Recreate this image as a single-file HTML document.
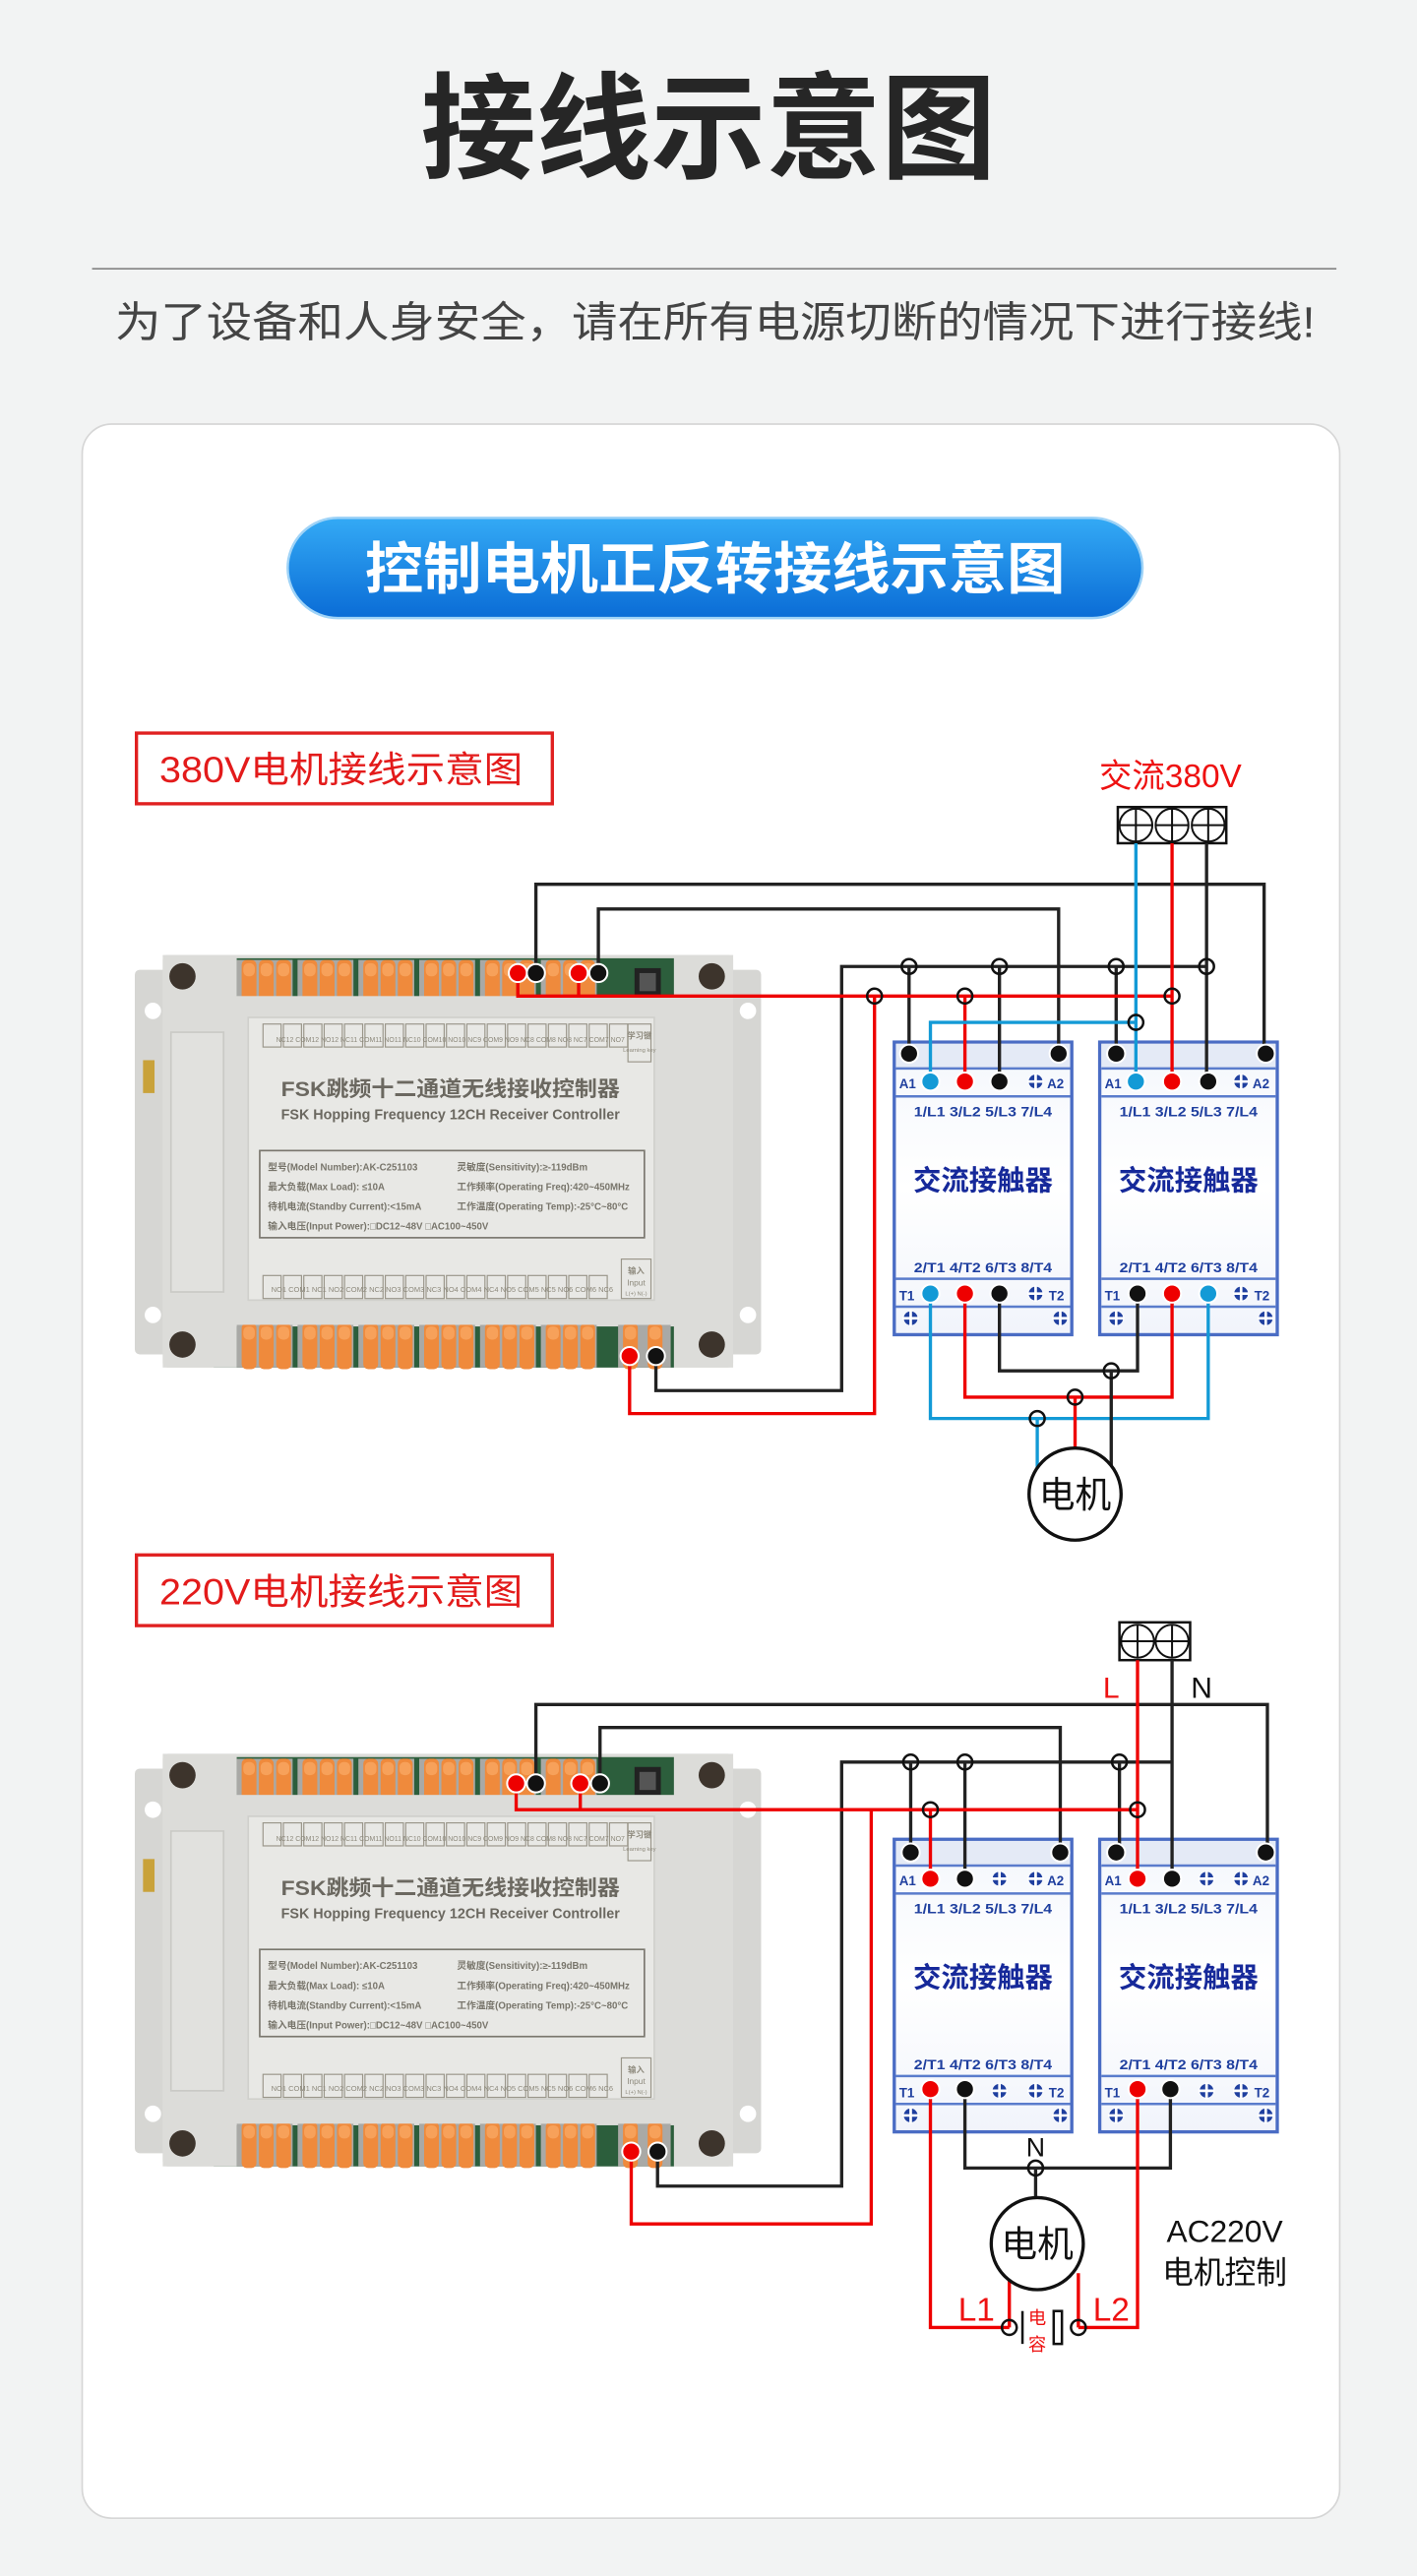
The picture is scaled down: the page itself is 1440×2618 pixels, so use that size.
<!DOCTYPE html>
<html><head><meta charset="utf-8"><style>
html,body{margin:0;padding:0;background:#f2f3f3;}
svg{display:block;}
text{font-family:"Liberation Sans","Noto Sans CJK SC",sans-serif;}
</style></head><body>
<svg width="1440" height="2618" viewBox="0 0 862 1567.2" xmlns="http://www.w3.org/2000/svg">
<defs>
<linearGradient id="pill" x1="0" y1="0" x2="0" y2="1"><stop offset="0" stop-color="#34aaf5"/><stop offset="1" stop-color="#0a6cd6"/></linearGradient>
<linearGradient id="cg" x1="0" y1="0" x2="0" y2="1"><stop offset="0" stop-color="#f4f7fc"/><stop offset="0.5" stop-color="#ffffff"/><stop offset="1" stop-color="#f1f4fb"/></linearGradient>
<symbol id="sc" overflow="visible"><circle r="4.2" fill="#1f3f9f"/><path d="M-5 0H5M0 -5V5" stroke="#fff" stroke-width="1.6"/></symbol>
<symbol id="ct" overflow="visible">
<rect x="0" y="0" width="108" height="178" fill="url(#cg)" stroke="#4a6cc4" stroke-width="2"/>
<rect x="1" y="1" width="106" height="15" fill="#e4eaf6"/>
<path d="M1 16H107M1 33H107M1 144H107M1 161H107" stroke="#5a7ccc" stroke-width="1.5"/>
<use href="#sc" x="86" y="24"/><use href="#sc" x="86" y="153"/><use href="#sc" x="10" y="168"/><use href="#sc" x="101" y="168"/>
</symbol>
<symbol id="lev" overflow="visible"><rect x="0" y="0" width="9" height="28" rx="3" fill="#ef8a3c"/><rect x="1" y="2" width="7" height="8" rx="3" fill="#f7a15a"/></symbol>
<symbol id="ctrl" overflow="visible">
<rect x="82" y="590" width="381" height="234" rx="3" fill="#d6d6d3"/>
<rect x="99" y="581" width="347" height="251" rx="3" fill="#dcdcd9"/>
<rect x="130" y="583" width="280" height="25" fill="#2c5e3c"/>
<rect x="130" y="807" width="280" height="25" fill="#2c5e3c"/>
<g>
<rect x="144" y="584" width="34" height="25" fill="#a9a9a6"/><rect x="181" y="584" width="34" height="25" fill="#a9a9a6"/><rect x="218" y="584" width="34" height="25" fill="#a9a9a6"/><rect x="255" y="584" width="34" height="25" fill="#a9a9a6"/><rect x="292" y="584" width="34" height="25" fill="#a9a9a6"/><rect x="329" y="584" width="34" height="25" fill="#a9a9a6"/>
<use href="#lev" x="147" y="584"/><use href="#lev" x="157.5" y="584"/><use href="#lev" x="168" y="584"/>
<use href="#lev" x="184" y="584"/><use href="#lev" x="194.5" y="584"/><use href="#lev" x="205" y="584"/>
<use href="#lev" x="221" y="584"/><use href="#lev" x="231.5" y="584"/><use href="#lev" x="242" y="584"/>
<use href="#lev" x="258" y="584"/><use href="#lev" x="268.5" y="584"/><use href="#lev" x="279" y="584"/>
<use href="#lev" x="295" y="584"/><use href="#lev" x="305.5" y="584"/><use href="#lev" x="316" y="584"/>
<use href="#lev" x="332" y="584"/><use href="#lev" x="342.5" y="584"/><use href="#lev" x="353" y="584"/>
</g>
<rect x="386" y="589" width="16" height="17" fill="#222"/><rect x="389" y="592" width="10" height="11" fill="#555"/>
<g>
<rect x="144" y="806" width="34" height="26" fill="#a9a9a6"/><rect x="181" y="806" width="34" height="26" fill="#a9a9a6"/><rect x="218" y="806" width="34" height="26" fill="#a9a9a6"/><rect x="255" y="806" width="34" height="26" fill="#a9a9a6"/><rect x="292" y="806" width="34" height="26" fill="#a9a9a6"/><rect x="329" y="806" width="34" height="26" fill="#a9a9a6"/><rect x="376" y="806" width="32" height="26" fill="#a9a9a6"/>
<use href="#lev" x="147" y="805"/><use href="#lev" x="157.5" y="805"/><use href="#lev" x="168" y="805"/>
<use href="#lev" x="184" y="805"/><use href="#lev" x="194.5" y="805"/><use href="#lev" x="205" y="805"/>
<use href="#lev" x="221" y="805"/><use href="#lev" x="231.5" y="805"/><use href="#lev" x="242" y="805"/>
<use href="#lev" x="258" y="805"/><use href="#lev" x="268.5" y="805"/><use href="#lev" x="279" y="805"/>
<use href="#lev" x="295" y="805"/><use href="#lev" x="305.5" y="805"/><use href="#lev" x="316" y="805"/>
<use href="#lev" x="332" y="805"/><use href="#lev" x="342.5" y="805"/><use href="#lev" x="353" y="805"/>
<use href="#lev" x="379" y="805"/><use href="#lev" x="394" y="805"/>
</g>
<rect x="99" y="606" width="347" height="200" fill="#dcdcd9"/>
<rect x="99" y="581" width="45" height="30" fill="#dcdcd9"/><rect x="410" y="581" width="36" height="30" fill="#dcdcd9"/>
<rect x="99" y="803" width="45" height="29" fill="#dcdcd9"/><rect x="410" y="803" width="36" height="29" fill="#dcdcd9"/>
<circle cx="111" cy="594" r="8" fill="#3d342c"/><circle cx="111" cy="818" r="8" fill="#3d342c"/>
<circle cx="433" cy="594" r="8" fill="#3d342c"/><circle cx="433" cy="818" r="8" fill="#3d342c"/>
<circle cx="93" cy="615" r="5" fill="#fff"/><circle cx="93" cy="800" r="5" fill="#fff"/><circle cx="455" cy="615" r="5" fill="#fff"/><circle cx="455" cy="800" r="5" fill="#fff"/>
<rect x="87" y="645" width="7" height="20" fill="#c9a23a"/>
<rect x="104" y="628" width="32" height="158" fill="#e1e1de" stroke="#cacac6"/>
<rect x="151" y="619" width="247" height="172" fill="#e8e8e5" stroke="#d0d0cc"/>
<g fill="none" stroke="#9a968a" stroke-width="0.7">
<rect x="160" y="623" width="11" height="14"/><rect x="172.4" y="623" width="11" height="14"/><rect x="184.8" y="623" width="11" height="14"/><rect x="197.2" y="623" width="11" height="14"/><rect x="209.6" y="623" width="11" height="14"/><rect x="222" y="623" width="11" height="14"/><rect x="234.4" y="623" width="11" height="14"/><rect x="246.8" y="623" width="11" height="14"/><rect x="259.2" y="623" width="11" height="14"/><rect x="271.6" y="623" width="11" height="14"/><rect x="284" y="623" width="11" height="14"/><rect x="296.4" y="623" width="11" height="14"/><rect x="308.8" y="623" width="11" height="14"/><rect x="321.2" y="623" width="11" height="14"/><rect x="333.6" y="623" width="11" height="14"/><rect x="346" y="623" width="11" height="14"/><rect x="358.4" y="623" width="11" height="14"/><rect x="370.8" y="623" width="11" height="14"/>
<rect x="382" y="623" width="14" height="23"/>
<rect x="160" y="776" width="11" height="14"/><rect x="172.4" y="776" width="11" height="14"/><rect x="184.8" y="776" width="11" height="14"/><rect x="197.2" y="776" width="11" height="14"/><rect x="209.6" y="776" width="11" height="14"/><rect x="222" y="776" width="11" height="14"/><rect x="234.4" y="776" width="11" height="14"/><rect x="246.8" y="776" width="11" height="14"/><rect x="259.2" y="776" width="11" height="14"/><rect x="271.6" y="776" width="11" height="14"/><rect x="284" y="776" width="11" height="14"/><rect x="296.4" y="776" width="11" height="14"/><rect x="308.8" y="776" width="11" height="14"/><rect x="321.2" y="776" width="11" height="14"/><rect x="333.6" y="776" width="11" height="14"/><rect x="346" y="776" width="11" height="14"/><rect x="358.4" y="776" width="11" height="14"/>
<rect x="378" y="766" width="18" height="24"/>
<rect x="158" y="700" width="234" height="53" stroke="#7a776e" stroke-width="1"/>
</g>
</symbol>
</defs>

<!-- header -->
<text x="431" y="103" text-anchor="middle" font-size="70" font-weight="bold" fill="#262626">接线示意图</text>
<line x1="56" y1="163.5" x2="813" y2="163.5" stroke="#8a8a8a" stroke-width="1"/>
<text x="435" y="205" text-anchor="middle" font-size="26" fill="#444" textLength="730" lengthAdjust="spacingAndGlyphs">为了设备和人身安全，请在所有电源切断的情况下进行接线!</text>

<rect x="50" y="258" width="765" height="1274" rx="18" fill="#fff" stroke="#d6d6d6"/>
<rect x="175" y="315" width="520" height="61" rx="30.5" fill="url(#pill)" stroke="#9fd3f7" stroke-width="1.5"/>
<text x="435" y="358" text-anchor="middle" font-size="34" font-weight="bold" fill="#fff" textLength="426" lengthAdjust="spacingAndGlyphs">控制电机正反转接线示意图</text>

<!-- ===== DIAGRAM 1 ===== -->
<rect x="83" y="446" width="253" height="43" fill="#fff" stroke="#e02020" stroke-width="2"/>
<text x="97" y="476" font-size="22" fill="#e31b1b" textLength="221" lengthAdjust="spacingAndGlyphs">380V电机接线示意图</text>

<use href="#ctrl" x="0" y="0"/>
<g font-size="4.2" fill="#8d897c" text-anchor="middle">
<text x="274" y="634" font-size="4.5" textLength="212" lengthAdjust="spacingAndGlyphs">NC12 COM12 NO12 NC11 COM11 NO11 NC10 COM10 NO10 NC9 COM9 NO9 NC8 COM8 NO8 NC7 COM7 NO7</text>
<text x="389" y="632" font-size="5" font-weight="bold">学习键</text><text x="389" y="640" font-size="3.5">Learning key</text>
<text x="269" y="786" font-size="4.5" textLength="208" lengthAdjust="spacingAndGlyphs">NO1 COM1 NC1 NO2 COM2 NC2 NO3 COM3 NC3 NO4 COM4 NC4 NO5 COM5 NC5 NO6 COM6 NC6</text>
<text x="387" y="775" font-size="5" font-weight="bold">输入</text><text x="387" y="782" font-size="5">Input</text><text x="387" y="788" font-size="3.5">L(+) N(-)</text>
</g>
<text x="274" y="667" text-anchor="middle" font-size="13" font-weight="bold" fill="#6b6860" textLength="206" lengthAdjust="spacingAndGlyphs">FSK跳频十二通道无线接收控制器</text>
<text x="274" y="681" text-anchor="middle" font-size="9" font-weight="bold" fill="#6b6860" textLength="206" lengthAdjust="spacingAndGlyphs">FSK Hopping Frequency 12CH Receiver Controller</text>
<g font-size="5.8" font-weight="bold" fill="#78756b">
<text x="163" y="712">型号(Model Number):AK-C251103</text><text x="278" y="712">灵敏度(Sensitivity):≥-119dBm</text>
<text x="163" y="724">最大负载(Max Load): ≤10A</text><text x="278" y="724">工作频率(Operating Freq):420~450MHz</text>
<text x="163" y="736">待机电流(Standby Current):&lt;15mA</text><text x="278" y="736">工作温度(Operating Temp):-25°C~80°C</text>
<text x="163" y="748">输入电压(Input Power):□DC12~48V □AC100~450V</text>
</g>

<use href="#ct" x="544" y="634"/><use href="#ct" x="669" y="634"/>
<g font-weight="bold" fill="#1f3f9f">
<text x="547" y="662" font-size="8">A1</text><text x="637" y="662" font-size="8">A2</text>
<text x="556" y="679" font-size="8" textLength="84" lengthAdjust="spacingAndGlyphs">1/L1 3/L2 5/L3 7/L4</text>
<text x="598" y="724" text-anchor="middle" font-size="17" fill="#16299a">交流接触器</text>
<text x="556" y="774" font-size="8" textLength="84" lengthAdjust="spacingAndGlyphs">2/T1 4/T2 6/T3 8/T4</text>
<text x="547" y="791" font-size="8">T1</text><text x="638" y="791" font-size="8">T2</text>
<text x="672" y="662" font-size="8">A1</text><text x="762" y="662" font-size="8">A2</text>
<text x="681" y="679" font-size="8" textLength="84" lengthAdjust="spacingAndGlyphs">1/L1 3/L2 5/L3 7/L4</text>
<text x="723" y="724" text-anchor="middle" font-size="17" fill="#16299a">交流接触器</text>
<text x="681" y="774" font-size="8" textLength="84" lengthAdjust="spacingAndGlyphs">2/T1 4/T2 6/T3 8/T4</text>
<text x="672" y="791" font-size="8">T1</text><text x="763" y="791" font-size="8">T2</text>
</g>

<text x="712" y="479" text-anchor="middle" font-size="20" fill="#ee1111">交流380V</text>
<rect x="680" y="491" width="66" height="22" fill="#fff" stroke="#111" stroke-width="1.5"/>
<g fill="none" stroke="#111" stroke-width="1.2">
<circle cx="691" cy="502" r="10"/><path d="M681 502H701M691 492V512"/>
<circle cx="713" cy="502" r="10"/><path d="M703 502H723M713 492V512"/>
<circle cx="735" cy="502" r="10"/><path d="M725 502H745M735 492V512"/>
</g>

<g fill="none" stroke-width="2">
<path d="M326 592V538H769V641M364 592V553H644V641M399 825V846H512V588H734M734 513V658M553 588V641M608 588V658M679 588V641" stroke="#222"/>
<path d="M315 592V606H713M352 592V606M713 513V658M587 606V658M532 606V860H383V825" stroke="#ee0000"/>
<path d="M566 658V622H691M691 513V658" stroke="#139ad6"/>
<path d="M566 787V863H735V787M631 863V893" stroke="#139ad6"/>
<path d="M587 787V850H713V787M654 850V881" stroke="#ee0000"/>
<path d="M608 787V834H692V787M676 834V892" stroke="#222"/>
</g>
<g fill="none" stroke="#111" stroke-width="1.5">
<circle cx="553" cy="588" r="4.5"/><circle cx="608" cy="588" r="4.5"/><circle cx="679" cy="588" r="4.5"/><circle cx="734" cy="588" r="4.5"/>
<circle cx="532" cy="606" r="4.5"/><circle cx="587" cy="606" r="4.5"/><circle cx="713" cy="606" r="4.5"/><circle cx="691" cy="622" r="4.5"/>
<circle cx="631" cy="863" r="4.5"/><circle cx="654" cy="850" r="4.5"/><circle cx="676" cy="834" r="4.5"/>
</g>
<circle cx="654" cy="909" r="28" fill="#fff" stroke="#111" stroke-width="2"/>
<text x="654" y="917" text-anchor="middle" font-size="22" fill="#111">电机</text>
<g stroke="#fff" stroke-width="1.2">
<circle cx="315" cy="592" r="5.5" fill="#ee0000"/><circle cx="326" cy="592" r="5.5" fill="#111"/><circle cx="352" cy="592" r="5.5" fill="#ee0000"/><circle cx="364" cy="592" r="5.5" fill="#111"/>
<circle cx="383" cy="825" r="5.5" fill="#ee0000"/><circle cx="399" cy="825" r="5.5" fill="#111"/>
<circle cx="553" cy="641" r="5.5" fill="#111"/><circle cx="644" cy="641" r="5.5" fill="#111"/><circle cx="679" cy="641" r="5.5" fill="#111"/><circle cx="770" cy="641" r="5.5" fill="#111"/>
<circle cx="566" cy="658" r="5.5" fill="#139ad6"/><circle cx="587" cy="658" r="5.5" fill="#ee0000"/><circle cx="608" cy="658" r="5.5" fill="#111"/>
<circle cx="691" cy="658" r="5.5" fill="#139ad6"/><circle cx="713" cy="658" r="5.5" fill="#ee0000"/><circle cx="735" cy="658" r="5.5" fill="#111"/>
<circle cx="566" cy="787" r="5.5" fill="#139ad6"/><circle cx="587" cy="787" r="5.5" fill="#ee0000"/><circle cx="608" cy="787" r="5.5" fill="#111"/>
<circle cx="692" cy="787" r="5.5" fill="#111"/><circle cx="713" cy="787" r="5.5" fill="#ee0000"/><circle cx="735" cy="787" r="5.5" fill="#139ad6"/>
</g>

<!-- ===== DIAGRAM 2 ===== -->
<rect x="83" y="946" width="253" height="43" fill="#fff" stroke="#e02020" stroke-width="2"/>
<text x="97" y="976" font-size="22" fill="#e31b1b" textLength="221" lengthAdjust="spacingAndGlyphs">220V电机接线示意图</text>

<use href="#ctrl" x="0" y="486"/>
<g font-size="4.2" fill="#8d897c" text-anchor="middle">
<text x="274" y="1120" font-size="4.5" textLength="212" lengthAdjust="spacingAndGlyphs">NC12 COM12 NO12 NC11 COM11 NO11 NC10 COM10 NO10 NC9 COM9 NO9 NC8 COM8 NO8 NC7 COM7 NO7</text>
<text x="389" y="1118" font-size="5" font-weight="bold">学习键</text><text x="389" y="1126" font-size="3.5">Learning key</text>
<text x="269" y="1272" font-size="4.5" textLength="208" lengthAdjust="spacingAndGlyphs">NO1 COM1 NC1 NO2 COM2 NC2 NO3 COM3 NC3 NO4 COM4 NC4 NO5 COM5 NC5 NO6 COM6 NC6</text>
<text x="387" y="1261" font-size="5" font-weight="bold">输入</text><text x="387" y="1268" font-size="5">Input</text><text x="387" y="1274" font-size="3.5">L(+) N(-)</text>
</g>
<text x="274" y="1153" text-anchor="middle" font-size="13" font-weight="bold" fill="#6b6860" textLength="206" lengthAdjust="spacingAndGlyphs">FSK跳频十二通道无线接收控制器</text>
<text x="274" y="1167" text-anchor="middle" font-size="9" font-weight="bold" fill="#6b6860" textLength="206" lengthAdjust="spacingAndGlyphs">FSK Hopping Frequency 12CH Receiver Controller</text>
<g font-size="5.8" font-weight="bold" fill="#78756b">
<text x="163" y="1198">型号(Model Number):AK-C251103</text><text x="278" y="1198">灵敏度(Sensitivity):≥-119dBm</text>
<text x="163" y="1210">最大负载(Max Load): ≤10A</text><text x="278" y="1210">工作频率(Operating Freq):420~450MHz</text>
<text x="163" y="1222">待机电流(Standby Current):&lt;15mA</text><text x="278" y="1222">工作温度(Operating Temp):-25°C~80°C</text>
<text x="163" y="1234">输入电压(Input Power):□DC12~48V □AC100~450V</text>
</g>

<use href="#ct" x="544" y="1119"/><use href="#ct" x="669" y="1119"/>
<use href="#sc" x="608" y="1143"/><use href="#sc" x="608" y="1272"/><use href="#sc" x="734" y="1143"/><use href="#sc" x="734" y="1272"/>
<g font-weight="bold" fill="#1f3f9f">
<text x="547" y="1147" font-size="8">A1</text><text x="637" y="1147" font-size="8">A2</text>
<text x="556" y="1164" font-size="8" textLength="84" lengthAdjust="spacingAndGlyphs">1/L1 3/L2 5/L3 7/L4</text>
<text x="598" y="1209" text-anchor="middle" font-size="17" fill="#16299a">交流接触器</text>
<text x="556" y="1259" font-size="8" textLength="84" lengthAdjust="spacingAndGlyphs">2/T1 4/T2 6/T3 8/T4</text>
<text x="547" y="1276" font-size="8">T1</text><text x="638" y="1276" font-size="8">T2</text>
<text x="672" y="1147" font-size="8">A1</text><text x="762" y="1147" font-size="8">A2</text>
<text x="681" y="1164" font-size="8" textLength="84" lengthAdjust="spacingAndGlyphs">1/L1 3/L2 5/L3 7/L4</text>
<text x="723" y="1209" text-anchor="middle" font-size="17" fill="#16299a">交流接触器</text>
<text x="681" y="1259" font-size="8" textLength="84" lengthAdjust="spacingAndGlyphs">2/T1 4/T2 6/T3 8/T4</text>
<text x="672" y="1276" font-size="8">T1</text><text x="763" y="1276" font-size="8">T2</text>
</g>

<rect x="681" y="987" width="43" height="23" fill="#fff" stroke="#111" stroke-width="1.5"/>
<g fill="none" stroke="#111" stroke-width="1.2">
<circle cx="692" cy="998.5" r="10"/><path d="M682 998.5H702M692 989V1008"/>
<circle cx="713" cy="998.5" r="10"/><path d="M703 998.5H723M713 989V1008"/>
</g>
<text x="676" y="1033" text-anchor="middle" font-size="18" fill="#ee1111">L</text>
<text x="731" y="1033" text-anchor="middle" font-size="18" fill="#111">N</text>

<g fill="none" stroke-width="2">
<path d="M326 1085V1037H771V1127M365 1085V1051H645V1127M400 1309V1330H512V1072H713M713 1010V1143M554 1072V1127M587 1072V1143M681 1072V1127" stroke="#222"/>
<path d="M314 1085V1101H692M353 1085V1101M692 1010V1143M566 1101V1143M530 1101V1353H384V1309" stroke="#ee0000"/>
<path d="M587 1271V1319H712V1271M630 1319V1337" stroke="#222"/>
<path d="M566 1271V1416H614M692 1271V1416H656M614 1416V1386M656 1416V1383" stroke="#ee0000"/>
</g>
<g fill="none" stroke="#111" stroke-width="1.5">
<circle cx="554" cy="1072" r="4.5"/><circle cx="587" cy="1072" r="4.5"/><circle cx="681" cy="1072" r="4.5"/>
<circle cx="566" cy="1101" r="4.5"/><circle cx="692" cy="1101" r="4.5"/>
<circle cx="630" cy="1319" r="4.5"/>
<circle cx="614" cy="1416" r="4.5"/><circle cx="656" cy="1416" r="4.5"/>
</g>
<text x="630" y="1312" text-anchor="middle" font-size="16" fill="#111">N</text>
<circle cx="631" cy="1365" r="28" fill="#fff" stroke="#111" stroke-width="2"/>
<text x="631" y="1373" text-anchor="middle" font-size="22" fill="#111">电机</text>
<path d="M622 1406V1426" stroke="#111" stroke-width="1.5"/>
<rect x="641" y="1406" width="5" height="20" fill="#fff" stroke="#111" stroke-width="1.5"/>
<text x="631" y="1414" text-anchor="middle" font-size="11" fill="#ee1111">电</text>
<text x="631" y="1430" text-anchor="middle" font-size="11" fill="#ee1111">容</text>
<text x="594" y="1412" text-anchor="middle" font-size="20" fill="#ee1111">L1</text>
<text x="676" y="1412" text-anchor="middle" font-size="20" fill="#ee1111">L2</text>
<text x="745" y="1364" text-anchor="middle" font-size="19" fill="#111">AC220V</text>
<text x="745" y="1389" text-anchor="middle" font-size="19" fill="#111">电机控制</text>

<g stroke="#fff" stroke-width="1.2">
<circle cx="314" cy="1085" r="5.5" fill="#ee0000"/><circle cx="326" cy="1085" r="5.5" fill="#111"/><circle cx="353" cy="1085" r="5.5" fill="#ee0000"/><circle cx="365" cy="1085" r="5.5" fill="#111"/>
<circle cx="384" cy="1309" r="5.5" fill="#ee0000"/><circle cx="400" cy="1309" r="5.5" fill="#111"/>
<circle cx="554" cy="1127" r="5.5" fill="#111"/><circle cx="645" cy="1127" r="5.5" fill="#111"/><circle cx="679" cy="1127" r="5.5" fill="#111"/><circle cx="770" cy="1127" r="5.5" fill="#111"/>
<circle cx="566" cy="1143" r="5.5" fill="#ee0000"/><circle cx="587" cy="1143" r="5.5" fill="#111"/>
<circle cx="692" cy="1143" r="5.5" fill="#ee0000"/><circle cx="713" cy="1143" r="5.5" fill="#111"/>
<circle cx="566" cy="1271" r="5.5" fill="#ee0000"/><circle cx="587" cy="1271" r="5.5" fill="#111"/>
<circle cx="692" cy="1271" r="5.5" fill="#ee0000"/><circle cx="712" cy="1271" r="5.5" fill="#111"/>
</g>
</svg>
</body></html>
